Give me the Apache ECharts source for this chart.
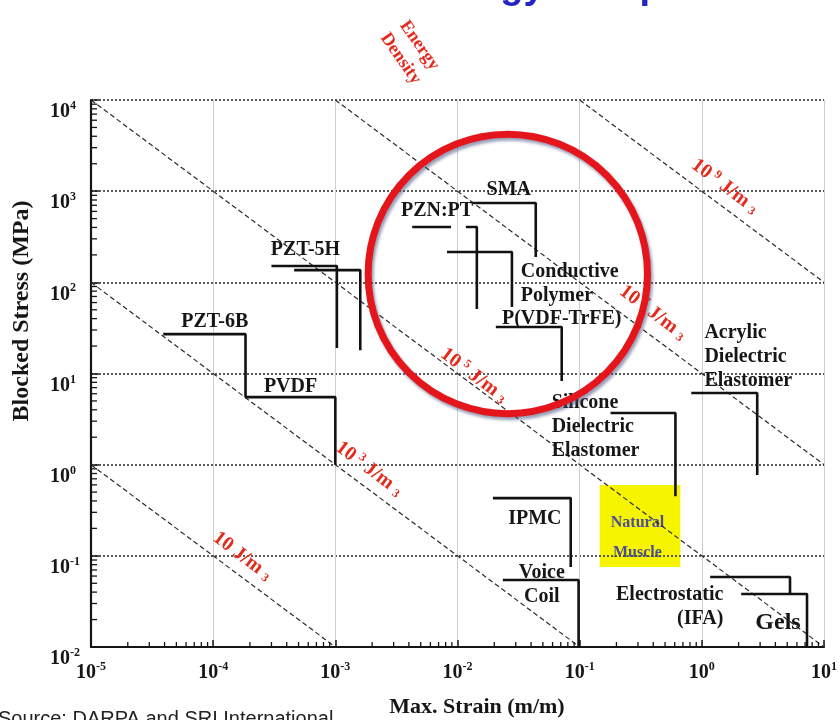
<!DOCTYPE html>
<html>
<head>
<meta charset="utf-8">
<script src="https://cdn.jsdelivr.net/npm/echarts@6/dist/echarts.min.js"></script>
<style>
  html, body { margin: 0; padding: 0; background: #ffffff; }
  #chart { width: 840px; height: 720px; }
</style>
</head>
<body>
<div id="chart"></div>
<script>
// ---- Axis extents (strain in m/m, stress in MPa) ----
const strainRange = [1e-5, 10];
const stressRange = [1e-2, 1e4];

// ---- Lines of constant energy density (exponent of J/m^3, start and end [strain, stress]) ----
const energyExponents = [1, 3, 5, 7, 9];
const energyLineStarts = [[1e-5, 1], [1e-5, 100], [1e-5, 1e4], [1e-3, 1e4], [1e-1, 1e4]];
const energyLineEnds = [[1e-3, 1e-2], [1e-1, 1e-2], [10, 1e-2], [10, 1], [10, 100]];
const energyLabelAt = [[1.74e-4, 0.1], [1.9e-3, 0.91], [0.0137, 9.6], [0.40, 47], [1.55, 1140]];

// ---- Actuator envelopes: [strain, stress] corner points ----
const materialNames = [
  'PZT-6B', 'PVDF', 'PZT-5H a', 'PZT-5H b', 'SMA', 'PZN:PT a', 'PZN:PT b',
  'Conductive Polymer', 'P(VDF-TrFE)', 'Acrylic Dielectric Elastomer',
  'Silicone Dielectric Elastomer', 'IPMC', 'Voice Coil', 'Electrostatic (IFA)', 'Gels'
];
const materialPaths = [
  [[3.9e-5, 27], [1.84e-4, 27], [1.84e-4, 5.5]],
  [[1.84e-4, 5.5], [1e-3, 5.5], [1e-3, 1]],
  [[3.0e-4, 151], [1.03e-3, 151], [1.03e-3, 19]],
  [[4.6e-4, 136], [1.6e-3, 136], [1.6e-3, 18]],
  [[0.0131, 741], [0.0437, 741], [0.0437, 190]],
  [[4.26e-3, 405], [8.85e-3, 405]],
  [[0.0117, 405], [0.0144, 405], [0.0144, 51]],
  [[8.2e-3, 215], [0.0279, 215], [0.0279, 53.7]],
  [[0.0206, 32.4], [0.0713, 32.4], [0.0713, 8.3]],
  [[0.82, 6.1], [2.84, 6.1], [2.84, 0.77]],
  [[0.179, 3.69], [0.608, 3.69], [0.608, 0.45]],
  [[0.0195, 0.43], [0.0845, 0.43], [0.0845, 0.0755]],
  [[0.0235, 0.0543], [0.098, 0.0543], [0.098, 0.01]],
  [[1.17, 0.0586], [5.27, 0.0586], [5.27, 0.0382]],
  [[2.1, 0.0382], [7.26, 0.0382], [7.26, 0.01]]
];

// ---- Material captions and where they sit [strain, stress] ----
const captionTexts = [
  'PZT-6B', 'PVDF', 'PZT-5H', 'SMA', 'PZN:PT', 'Conductive\nPolymer', 'P(VDF-TrFE)',
  'Acrylic\nDielectric\nElastomer', 'Silicone\nDielectric\nElastomer', 'IPMC',
  'Voice\nCoil', 'Electrostatic\n(IFA)', 'Gels'
];
const captionAnchors = [
  [1.03e-4, 37], [4.3e-4, 7.1], [5.7e-4, 226], [0.0263, 1030], [6.8e-3, 605],
  [0.033, 96], [0.0231, 39.6], [1.05, 15.2], [0.059, 2.59], [0.043, 0.254],
  [0.049, 0.0479], [1.5, 0.0275], [4.2, 0.0183]
];

// ---- Natural muscle region ----
const muscleStrain = [0.146, 0.667];
const muscleStress = [0.0755, 0.60];
const muscleCaption = 'Natural\nMuscle';
const muscleCaptionAt = [0.297, 0.157];

// ---- Highlight ring (centre and a point on the ring) ----
const ringCentre = [0.0258, 123.5];
const ringEdge = [0.359, 123.5];

// ---- Decade tick multipliers for the minor ticks ----
const minorMultipliers = [2, 3, 4, 5, 6, 7, 8, 9];

const SERIF = '"Liberation Serif", "Times New Roman", serif';
const SANS = '"Liberation Sans", Arial, sans-serif';
const INK = '#161616';
const RED = '#e52a1d';

function minorValues(range) {
  const lo = Math.round(Math.log10(range[0]));
  const hi = Math.round(Math.log10(range[1]));
  const out = [];
  for (let e = lo; e < hi; e++) {
    minorMultipliers.forEach(function (m) { out.push(m * Math.pow(10, e)); });
  }
  return out;
}

function powerLabel(v) {
  const e = Math.round(Math.log10(v));
  return '{b|10}{s|' + e + '}';
}

const axisRich = {
  b: { fontFamily: SERIF, fontWeight: 'bold', fontSize: 20, color: INK, lineHeight: 22, verticalAlign: 'bottom' },
  s: { fontFamily: SERIF, fontWeight: 'bold', fontSize: 12, color: INK, lineHeight: 12, verticalAlign: 'top' }
};

const captionAlign = {
  'Conductive\nPolymer': 'left',
  'P(VDF-TrFE)': 'left',
  'Acrylic\nDielectric\nElastomer': 'left',
  'Silicone\nDielectric\nElastomer': 'left',
  'Electrostatic\n(IFA)': 'right'
};

const series = [];

// Natural muscle block sits underneath the grid lines
series.push({
  type: 'custom',
  z: -1,
  silent: true,
  data: [[muscleStrain[0], muscleStress[1], muscleStrain[1], muscleStress[0]]],
  renderItem: function (params, api) {
    const p0 = api.coord([api.value(0), api.value(1)]);
    const p1 = api.coord([api.value(2), api.value(3)]);
    const c = api.coord(muscleCaptionAt);
    return {
      type: 'group',
      children: [
        { type: 'rect', shape: { x: p0[0], y: p0[1], width: p1[0] - p0[0], height: p1[1] - p0[1] },
          style: { fill: '#f7f400' } },
        { type: 'text', x: c[0], y: c[1],
          style: { text: muscleCaption, fontFamily: SERIF, fontWeight: 'bold', fontSize: 16,
                   lineHeight: 30, fill: '#4d4f96', align: 'center', verticalAlign: 'middle' } }
      ]
    };
  }
});

// Constant energy density lines
energyExponents.forEach(function (exp, i) {
  series.push({
    type: 'line',
    name: '1e' + exp + ' J/m3',
    data: [energyLineStarts[i], energyLineEnds[i]],
    symbol: 'none',
    silent: true,
    z: 2,
    lineStyle: { color: '#2a2a2a', width: 1.2, type: [5, 3] }
  });
});

// Actuator envelopes
materialNames.forEach(function (name, i) {
  series.push({
    type: 'line',
    name: name,
    data: materialPaths[i],
    symbol: 'none',
    silent: true,
    z: 3,
    lineStyle: { color: '#111111', width: 2.6 }
  });
});

// Minor ticks along the strain axis
series.push({
  type: 'custom',
  silent: true,
  clip: false,
  z: 4,
  data: minorValues(strainRange).map(function (v) { return [v, stressRange[0]]; }),
  renderItem: function (params, api) {
    const p = api.coord([api.value(0), api.value(1)]);
    return { type: 'line', shape: { x1: p[0], y1: p[1], x2: p[0], y2: p[1] - 5 },
             style: { stroke: INK, lineWidth: 1.3 } };
  }
});

// Minor ticks along the stress axis
series.push({
  type: 'custom',
  silent: true,
  clip: false,
  z: 4,
  data: minorValues(stressRange).map(function (v) { return [strainRange[0], v]; }),
  renderItem: function (params, api) {
    const p = api.coord([api.value(0), api.value(1)]);
    return { type: 'line', shape: { x1: p[0], y1: p[1], x2: p[0] + 6, y2: p[1] },
             style: { stroke: INK, lineWidth: 1.3 } };
  }
});

// Material captions
series.push({
  type: 'custom',
  silent: true,
  clip: false,
  z: 5,
  data: captionAnchors.map(function (p, i) { return [p[0], p[1], i]; }),
  renderItem: function (params, api) {
    const p = api.coord([api.value(0), api.value(1)]);
    const text = captionTexts[api.value(2)];
    return {
      type: 'text', x: p[0], y: p[1],
      style: {
        text: text,
        fontFamily: SERIF, fontWeight: 'bold',
        fontSize: text === 'Gels' ? 24 : 20,
        lineHeight: 24,
        fill: INK,
        align: captionAlign[text] || 'center',
        verticalAlign: 'middle'
      }
    };
  }
});

// Energy density captions, laid along the dashed lines
const energyRich = {
  n: { fontFamily: SERIF, fontWeight: 'bold', fontSize: 20, fill: RED, color: RED, lineHeight: 21, verticalAlign: 'bottom' },
  e: { fontFamily: SERIF, fontWeight: 'bold', fontSize: 12, fill: RED, color: RED, lineHeight: 12, verticalAlign: 'top', padding: [0, 0, 0, 4] },
  t: { fontFamily: SERIF, fontWeight: 'bold', fontSize: 12, fill: RED, color: RED, lineHeight: 12, verticalAlign: 'bottom', padding: [0, 0, 0, 5] }
};
series.push({
  type: 'custom',
  silent: true,
  clip: false,
  z: 6,
  data: energyLabelAt.map(function (p, i) { return [p[0], p[1], energyExponents[i]]; }),
  renderItem: function (params, api) {
    const p = api.coord([api.value(0), api.value(1)]);
    const exp = api.value(2);
    const text = exp === 1
      ? '{n|10 J/m}{t|3}'
      : '{n|10}{e|' + exp + '}{n| J/m}{t|3}';
    return {
      type: 'text', x: p[0], y: p[1],
      rotation: -37 * Math.PI / 180,
      style: { text: text, rich: energyRich, fill: RED, align: 'center', verticalAlign: 'middle' }
    };
  }
});

// Highlight ring
series.push({
  type: 'custom',
  silent: true,
  clip: false,
  z: 10,
  data: [[ringCentre[0], ringCentre[1], ringEdge[0], ringEdge[1]]],
  renderItem: function (params, api) {
    const c = api.coord([api.value(0), api.value(1)]);
    const e = api.coord([api.value(2), api.value(3)]);
    const r = Math.hypot(e[0] - c[0], e[1] - c[1]);
    return {
      type: 'circle',
      shape: { cx: c[0], cy: c[1], r: r },
      style: {
        fill: 'none', stroke: '#e4161c', lineWidth: 7,
        shadowColor: 'rgba(70,80,125,0.55)', shadowBlur: 3, shadowOffsetX: 2, shadowOffsetY: 3
      }
    };
  }
});

const option = {
  backgroundColor: '#ffffff',
  animation: false,
  grid: { left: 91, right: 14, top: 100, bottom: 73, containLabel: false },
  xAxis: {
    type: 'log',
    logBase: 10,
    min: strainRange[0],
    max: strainRange[1],
    splitNumber: 6,
    axisLine: { show: true, lineStyle: { color: INK, width: 2.2 } },
    axisTick: { show: true, inside: true, length: 7, lineStyle: { color: INK, width: 1.5 } },
    splitLine: { show: true, lineStyle: { color: '#cfcfcf', width: 1 } },
    axisLabel: { margin: 14, formatter: powerLabel, rich: axisRich, showMinLabel: true, showMaxLabel: true }
  },
  yAxis: {
    type: 'log',
    logBase: 10,
    min: stressRange[0],
    max: stressRange[1],
    splitNumber: 6,
    axisLine: { show: true, lineStyle: { color: INK, width: 2.2 } },
    axisTick: { show: true, inside: true, length: 8, lineStyle: { color: INK, width: 1.5 } },
    splitLine: { show: true, lineStyle: { color: '#4a4a4a', width: 1.8, type: [2, 2] } },
    axisLabel: { margin: 41, align: 'left', verticalAlign: 'top', formatter: powerLabel, rich: axisRich,
                 showMinLabel: true, showMaxLabel: true }
  },
  graphic: [
    { type: 'text', x: 249, y: 7, silent: true,
      style: { text: 'Actuator Energy Comparison', fontFamily: SANS, fontWeight: 'bold', fontSize: 38,
               fill: '#2424c4', align: 'left', verticalAlign: 'bottom' } },
    { type: 'text', x: 410, y: 52, rotation: -55 * Math.PI / 180, silent: true,
      style: { text: 'Energy\nDensity', fontFamily: SERIF, fontWeight: 'bold', fontSize: 18, lineHeight: 23,
               fill: RED, align: 'center', verticalAlign: 'middle' } },
    { type: 'text', x: 22, y: 311, rotation: Math.PI / 2, silent: true,
      style: { text: 'Blocked Stress (MPa)', fontFamily: SERIF, fontWeight: 'bold', fontSize: 24,
               fill: INK, align: 'center', verticalAlign: 'middle' } },
    { type: 'text', x: 477, y: 707, silent: true,
      style: { text: 'Max. Strain (m/m)', fontFamily: SERIF, fontWeight: 'bold', fontSize: 22,
               fill: INK, align: 'center', verticalAlign: 'middle' } },
    { type: 'text', x: -2, y: 709, silent: true,
      style: { text: 'Source: DARPA and SRI International', fontFamily: SANS, fontSize: 20,
               fill: '#222222', align: 'left', verticalAlign: 'top' } }
  ],
  series: series
};

const chart = echarts.init(document.getElementById('chart'));
chart.setOption(option);
</script>
</body>
</html>
